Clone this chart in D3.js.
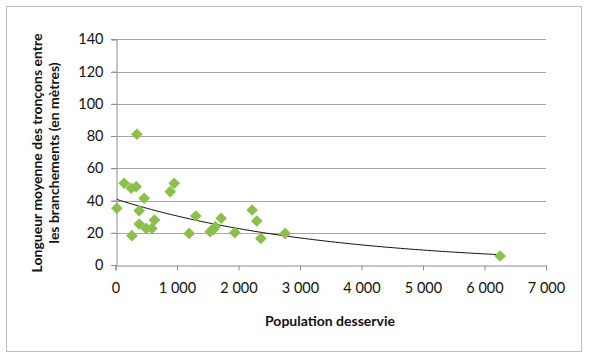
<!DOCTYPE html>
<html><head><meta charset="utf-8">
<script src="https://cdn.jsdelivr.net/npm/d3@7"></script>
<style>body{margin:0;background:#fff;} svg{display:block;}</style>
</head><body>
<script>
const population = [22,141,255,336,347,466,385,385,266,499,591,634,889,954,1198,1306,1539,1594,1621,1718,1940,2222,2298,2363,2759,6255];
const longueur   = [35.2,50.7,47.6,48.6,81.1,41.4,33.7,25.4,18.2,22.7,22.7,27.9,45.5,50.7,19.6,30.4,20.7,22.1,23.8,29.0,20.1,34.1,27.3,16.5,19.6,5.6];
const xTicks = [0,1000,2000,3000,4000,5000,6000,7000];
const yTicks = [0,20,40,60,80,100,120,140];
const xTitle = "Population desservie";
const yTitleLines = ["Longueur moyenne des tronçons entre","les branchements (en mètres)"];

const W=590,H=358;
const svg=d3.select("body").append("svg").attr("width",W).attr("height",H);
svg.append("rect").attr("x",6.5).attr("y",6.5).attr("width",575).attr("height",345)
  .attr("fill","#fff").attr("stroke","#bdbdbd").attr("stroke-width",1);

const x=d3.scaleLinear().domain([0,7000]).range([115.5,546]);
const y=d3.scaleLinear().domain([0,140]).range([265,39.3]);
const font="Lato, 'Open Sans', sans-serif";
const fmt=d=>d===0?"0":d3.format(",")(d).replace(/,/g," ");

// grid
svg.append("g").selectAll("line").data(yTicks.filter(d=>d>0)).join("line")
  .attr("x1",111).attr("x2",546).attr("y1",d=>Math.round(y(d))+0.5).attr("y2",d=>Math.round(y(d))+0.5)
  .attr("stroke","#a6a6a6").attr("stroke-width",1);

const xa=svg.append("g").attr("transform",`translate(0,${Math.round(y(0))+0.5})`)
  .call(d3.axisBottom(x).tickValues(xTicks).tickSize(5).tickPadding(12).tickFormat(fmt));
const ya=svg.append("g").attr("transform",`translate(${Math.round(x(0))+0.5},0)`)
  .call(d3.axisLeft(y).tickValues(yTicks).tickSize(5).tickPadding(8).tickFormat(d=>d));
[xa,ya].forEach(a=>{
  a.select(".domain").attr("stroke","#8c8c8c");
  a.selectAll(".tick line").attr("stroke","#8c8c8c");
  a.selectAll("text").attr("font-family",font).attr("font-size",14.5).attr("fill","#111");
});

// exponential trend line (least squares on ln y)
const lx=population, ly=longueur.map(Math.log);
const mx=d3.mean(lx), my=d3.mean(ly);
const b=d3.sum(lx.map((v,i)=>(v-mx)*(ly[i]-my)))/d3.sum(lx.map(v=>(v-mx)*(v-mx)));
const a=Math.exp(my-b*mx);
const [x0,x1]=d3.extent(population);
const tl=d3.range(0,101).map(i=>x0+(x1-x0)*i/100);
svg.append("path").datum(tl).attr("fill","none").attr("stroke","#111").attr("stroke-width",1)
  .attr("d",d3.line().x(d=>x(d)).y(d=>y(a*Math.exp(b*d))));

// points (diamonds)
svg.append("g").selectAll("path").data(population.map((p,i)=>[p,longueur[i]])).join("path")
  .attr("d",d3.symbol(d3.symbolSquare,68)())
  .attr("transform",d=>`translate(${x(d[0])},${y(d[1])}) rotate(45)`)
  .attr("fill","#8DC04B");

svg.append("text").attr("x",330).attr("y",326).attr("text-anchor","middle")
  .attr("font-family",font).attr("font-weight","bold").attr("font-size",14).attr("fill","#111").text(xTitle);
const yt=svg.append("text").attr("transform","translate(42,153) rotate(-90)").attr("text-anchor","middle")
  .attr("font-family",font).attr("font-weight","bold").attr("font-size",14).attr("fill","#111");
yTitleLines.forEach((t,i)=>yt.append("tspan").attr("x",0).attr("dy",i?17:0).text(t));
</script>
</body></html>
